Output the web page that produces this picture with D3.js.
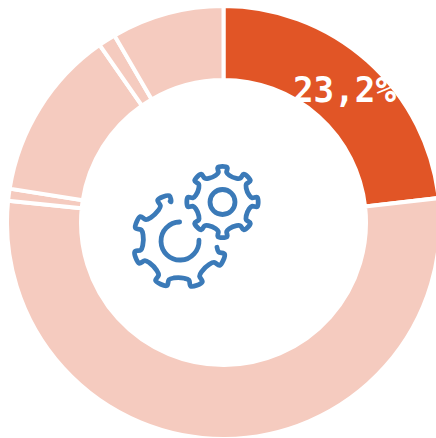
<!DOCTYPE html>
<html><head><meta charset="utf-8">
<script src="https://cdn.jsdelivr.net/npm/d3@7/dist/d3.min.js"></script>
<style>html,body{margin:0;padding:0;background:#fff;overflow:hidden}svg{display:block}</style>
</head><body><svg id="c" width="436" height="438"></svg>
<script>
const categories = ["A","B","C","D","E","F"];
const seriesValues = [23.2,53.4,0.9,12.8,1.3,8.4];
const sliceColors = ["#e15526","#f5cbbf","#f5cbbf","#f5cbbf","#f5cbbf","#f5cbbf"];
const valueLabel = "23,2%";

const W=436,H=438,cx=223.5,cy=222.5,R=214.5,r=144.5,gap=4;
const svg=d3.select("#c");
const g=svg.append("g").attr("transform",`translate(${cx},${cy})`);
const pie=d3.pie().value((d,i)=>seriesValues[i]).sort(null)(categories);
const arc=d3.arc().innerRadius(r-gap/2).outerRadius(R+gap/2);
g.selectAll("path.s").data(pie).join("path").attr("class","s")
 .attr("d",arc).attr("fill",(d,i)=>sliceColors[i])
 .attr("stroke","#fff").attr("stroke-width",gap);

svg.append("text").attr("x",344.5).attr("y",102).attr("text-anchor","middle")
 .attr("font-family","'DejaVu Sans Mono'").attr("font-weight",700).attr("font-size",35)
 .attr("textLength",103).attr("lengthAdjust","spacingAndGlyphs").attr("fill","#fff").text(valueLabel);

// Icon: two gears
const iconColor="#3a7ab8";
const defs=svg.append("defs");
defs.append("filter").attr("id","soft").append("feGaussianBlur").attr("stdDeviation",0.6);
const icon=svg.append("g").attr("fill","none").attr("stroke",iconColor).attr("stroke-width",4.8)
 .attr("stroke-linecap","round").attr("stroke-linejoin","round").attr("filter","url(#soft)");

function gearPoints(n,start,step,rRoot,rTip){
  const pts=[], w=step*0.2, s=step*0.12;
  for(let k=0;k<n;k++){
    const a=start+k*step;
    pts.push([a-w-s,rRoot],[a-w*0.9,rRoot+0.3*(rTip-rRoot)],[a-w*0.85,rTip],[a+w*0.85,rTip],[a+w*0.9,rRoot+0.3*(rTip-rRoot)],[a+w+s,rRoot]);
  }
  return pts;
}
const radial=d3.lineRadial().angle(d=>d[0]).radius(d=>d[1]).curve(d3.curveCatmullRom.alpha(0.5));
const radialClosed=d3.lineRadial().angle(d=>d[0]).radius(d=>d[1]).curve(d3.curveCatmullRomClosed.alpha(0.5));
const rad=Math.PI/180;

// small gear
const small=icon.append("g").attr("transform","translate(222.5,202)");
small.append("path").attr("d",radialClosed(gearPoints(8,0,45*rad,27.5,35)));
small.append("circle").attr("r",12.5);

// large gear (open outline)
const large=icon.append("g").attr("transform","translate(180,241)");
const open=gearPoints(6,-246*rad,45*rad,37.5,46.5);
large.append("path").attr("d",radial(open.slice(0,open.length-1).concat([[-14*rad,41]])));
large.append("path").attr("d",d3.arc().innerRadius(19).outerRadius(19).startAngle(-0.02).endAngle(-1.5*Math.PI-0.05)());
</script></body></html>
